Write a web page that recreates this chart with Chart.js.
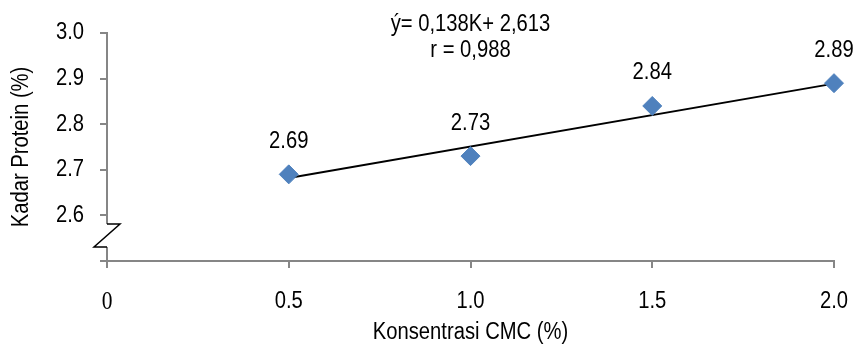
<!DOCTYPE html>
<html>
<head>
<meta charset="utf-8">
<script src="https://cdn.jsdelivr.net/npm/chart.js@4"></script>
<style>
  html, body { margin: 0; padding: 0; background: #fff; }
  #wrap { width: 855px; height: 347px; }
</style>
</head>
<body>
<div id="wrap"><canvas id="c" width="855" height="347"></canvas></div>
<script>
// Data
const cmc = [0.5, 1.0, 1.5, 2.0];
const protein = [2.69, 2.73, 2.84, 2.89];
const pointLabels = ['2.69', '2.73', '2.84', '2.89'];
const trendX = [0.5, 2.0];
const trendY = [2.682, 2.889];
const equationLines = ['ý= 0,138K+ 2,613', 'r = 0,988'];
const xTicks = [0, 0.5, 1.0, 1.5, 2.0];
const yTicks = [2.5, 2.6, 2.7, 2.8, 2.9, 3.0];

const FONT = "'Liberation Sans', Arial, sans-serif";
const SERIF = "'Liberation Serif', 'Times New Roman', serif";
const FS = 23.5;
const AXIS = '#868686';
const SX = 0.86; // horizontal condensing of the reference's narrow typeface

// Canvas context: draw text slightly condensed (the reference uses a narrow face)
const canvas = document.getElementById('c');
const ctx0 = canvas.getContext('2d');
const origFill = ctx0.fillText.bind(ctx0);
const origMeasure = ctx0.measureText.bind(ctx0);
ctx0.fillText = function (text, x, y, maxWidth) {
  this.save();
  this.translate(x, y);
  this.scale(SX, 1);
  origFill(text, 0, 0);
  this.restore();
};
ctx0.measureText = function (text) {
  const m = origMeasure(text);
  return {
    width: m.width * SX,
    actualBoundingBoxLeft: m.actualBoundingBoxLeft * SX,
    actualBoundingBoxRight: m.actualBoundingBoxRight * SX,
    actualBoundingBoxAscent: m.actualBoundingBoxAscent,
    actualBoundingBoxDescent: m.actualBoundingBoxDescent,
    fontBoundingBoxAscent: m.fontBoundingBoxAscent,
    fontBoundingBoxDescent: m.fontBoundingBoxDescent
  };
};

const labelPlugin = {
  id: 'labels',
  afterDatasetsDraw(chart) {
    const ctx = chart.ctx;
    const meta = chart.getDatasetMeta(1);
    ctx.save();
    ctx.font = FS + 'px ' + FONT;
    ctx.fillStyle = '#000';
    ctx.textAlign = 'center';
    ctx.textBaseline = 'middle';
    meta.data.forEach((pt, i) => {
      ctx.fillText(pointLabels[i], pt.x, pt.y - 33);
    });
    const ca = chart.chartArea;
    const cx = (ca.left + ca.right) / 2;
    ctx.fillText(equationLines[0], cx, 25);
    ctx.fillText(equationLines[1], cx, 51);
    ctx.restore();
  },
  afterDraw(chart) {
    const ctx = chart.ctx;
    const ca = chart.chartArea;
    const L = ca.left, B = ca.bottom;
    ctx.save();
    ctx.fillStyle = '#fff';
    ctx.fillRect(L - 3, B - 37, 6, 23);
    ctx.strokeStyle = '#000';
    ctx.lineWidth = 1.5;
    ctx.beginPath();
    ctx.moveTo(L, B - 37);
    ctx.lineTo(L + 13, B - 37);
    ctx.lineTo(L - 13, B - 14);
    ctx.lineTo(L, B - 14);
    ctx.stroke();
    ctx.restore();
  }
};

new Chart(canvas, {
  type: 'scatter',
  data: {
    datasets: [
      {
        type: 'line',
        data: trendX.map((x, i) => ({ x: x, y: trendY[i] })),
        borderColor: '#000',
        borderWidth: 1.8,
        pointRadius: 0,
        fill: false,
        clip: false,
        order: 2
      },
      {
        data: cmc.map((x, i) => ({ x: x, y: protein[i] })),
        pointStyle: 'rectRot',
        pointRadius: 9.5,
        backgroundColor: '#4F81BD',
        borderColor: '#4F81BD',
        borderWidth: 1,
        clip: false,
        order: 1
      }
    ]
  },
  options: {
    responsive: false,
    animation: false,
    devicePixelRatio: 1,
    layout: { autoPadding: false, padding: { left: 0, top: 33, right: 21, bottom: 0 } },
    plugins: { legend: { display: false }, tooltip: { enabled: false } },
    scales: {
      x: {
        type: 'linear',
        min: 0, max: 2.0,
        afterBuildTicks(scale) { scale.ticks = xTicks.map(v => ({ value: v })); },
        afterFit(scale) { scale.height = 86; scale.paddingRight = 0; scale.paddingLeft = 0; },
        grid: { drawOnChartArea: false, drawTicks: true, tickLength: 7, color: AXIS, lineWidth: 2 },
        border: { color: AXIS, width: 2 },
        ticks: {
          padding: 19,
          color: '#000',
          maxRotation: 0,
          font: (c) => (c.tick && c.tick.value === 0)
            ? { family: SERIF, size: 25 }
            : { family: FONT, size: FS },
          callback: (v) => v === 0 ? '0' : Number(v).toFixed(1)
        },
        title: {
          display: true, text: 'Konsentrasi CMC (%)', color: '#000',
          font: { family: FONT, size: FS }, padding: { top: 0, bottom: 0 }
        }
      },
      y: {
        min: 2.5, max: 3.0,
        afterBuildTicks(scale) { scale.ticks = yTicks.map(v => ({ value: v })); },
        afterFit(scale) { scale.width = 107; },
        grid: { drawOnChartArea: false, drawTicks: true, tickLength: 7, color: AXIS, lineWidth: 2 },
        border: { color: AXIS, width: 2 },
        ticks: {
          padding: 16,
          color: '#000',
          font: { family: FONT, size: FS },
          callback: (v) => Math.abs(v - 2.5) < 1e-9 ? '' : Number(v).toFixed(1)
        },
        title: {
          display: true, text: 'Kadar Protein (%)', color: '#000',
          font: { family: FONT, size: FS }, padding: { top: 7, bottom: 0 }
        }
      }
    }
  },
  plugins: [labelPlugin]
});
</script>
</body>
</html>
